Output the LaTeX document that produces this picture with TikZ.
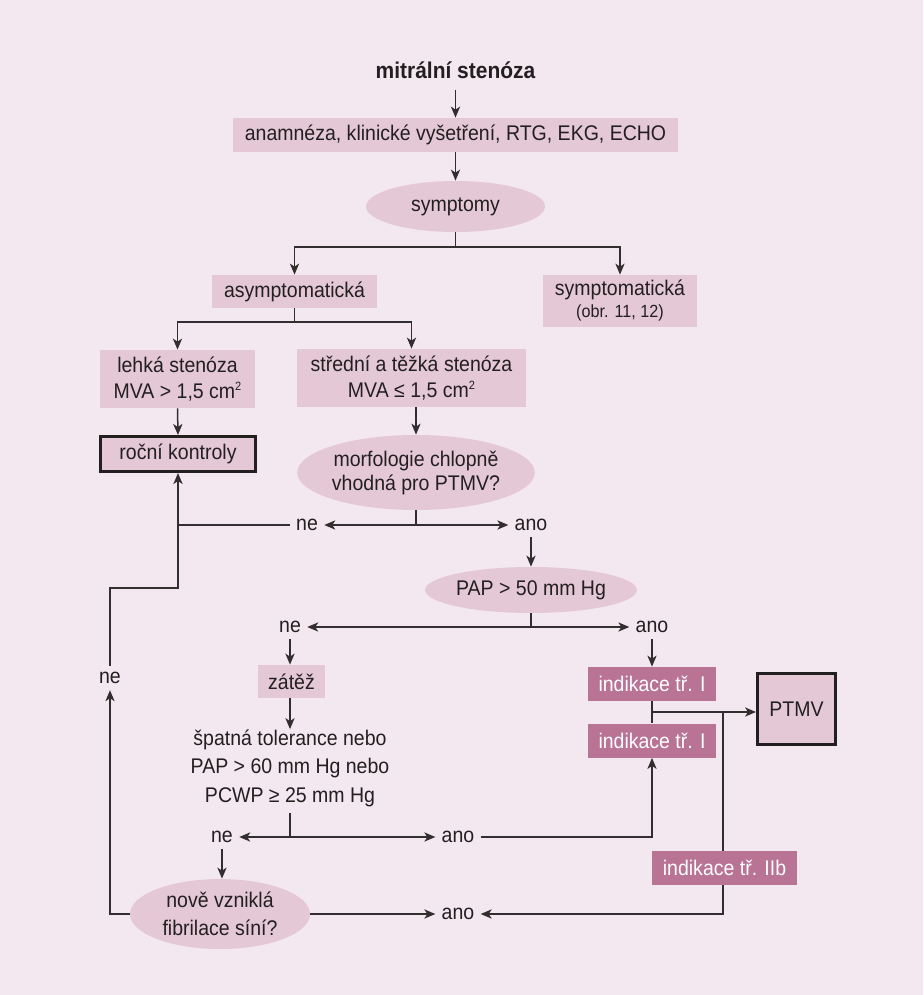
\documentclass[tikz,border=0pt]{standalone}
\usepackage{fontspec}
\setmainfont{Liberation Sans}[FakeStretch=0.92]
\usetikzlibrary{shapes.geometric,arrows.meta,calc}
\definecolor{bgc}{RGB}{243,232,239}
\definecolor{lboxc}{RGB}{228,200,214}
\definecolor{dboxc}{RGB}{185,115,149}
\definecolor{inkc}{RGB}{35,31,32}
\definecolor{linec}{RGB}{50,45,47}
\newcommand{\sqsup}{\raisebox{0.75ex}{\fontsize{6}{6}\selectfont 2}}
\begin{document}
\begin{tikzpicture}[x=0.5pt,y=-0.5pt,
  font=\fontsize{10.6}{13}\selectfont, text=inkc,
  lbox/.style={rectangle, fill=lboxc, inner sep=0pt, align=center},
  dbox/.style={rectangle, fill=dboxc, inner sep=0pt, align=center, text=white},
  lell/.style={ellipse, fill=lboxc, inner sep=0pt, align=center},
  frame/.style={rectangle, fill=lboxc, draw=inkc, line width=1.5pt, inner sep=0pt, align=center},
  lbl/.style={inner sep=3pt},
  conn/.style={draw=linec, line width=0.75pt},
  arr/.style={conn, -{Stealth[length=5.5pt,width=4.6pt,inset=1.5pt]}},
]
\fill[bgc] (0,0) rectangle (923,995);
\useasboundingbox (0,0) rectangle (923,995);

% nodes
\node[font=\bfseries\fontsize{11.4}{13}\selectfont] (title) at (455.5,70) {mitrální stenóza};
\node[lbox, minimum width=222.5pt, minimum height=17pt] (anam) at (455.5,135) {anamnéza, klinické vyšetření, RTG, EKG, ECHO};
\node[lell, minimum width=89.5pt, minimum height=25.5pt] (sym) at (455.5,206.5) {symptomy};
\node[lbox, minimum width=82.5pt, minimum height=16.5pt] (asym) at (294.5,291.5) {asymptomatická};
\node[lbox, minimum width=77pt, minimum height=26pt] (symc) at (620,301) {symptomatická\\[-2pt]{\fontsize{8.8}{10}\selectfont (obr. 11, 12)}};
\node[lbox, minimum width=77.5pt, minimum height=29pt] (lehka) at (177.5,379) {lehká stenóza\\MVA > 1,5 cm\sqsup};
\node[lbox, minimum width=114.5pt, minimum height=29pt] (stred) at (411.5,378) {střední a těžká stenóza\\MVA ≤ 1,5 cm\sqsup};
\node[frame, minimum width=77.5pt, minimum height=17.5pt] (rocni) at (178,454) {roční kontroly};
\node[lell, minimum width=113pt, minimum height=37.5pt, font=\fontsize{10.6}{12}\selectfont] (morf) at (416,472.5) {morfologie chlopně\\vhodná pro PTMV?};
\node[lell, minimum width=89.5pt, minimum height=23pt] (pap) at (531,590) {PAP > 50 mm Hg};
\node[lbox, minimum width=33.5pt, minimum height=16.5pt] (zatez) at (291.5,681.5) {zátěž};
\node[align=center, font=\fontsize{10.6}{14.25}\selectfont, inner sep=0pt] (spat) at (290,768) {špatná tolerance nebo\\PAP > 60 mm Hg nebo\\PCWP ≥ 25 mm Hg};
\node[lell, minimum width=90pt, minimum height=35pt, font=\fontsize{10.6}{14}\selectfont] (nove) at (220,914) {nově vzniklá\\fibrilace síní?};
\node[dbox, minimum width=64pt, minimum height=17pt] (ind1) at (652,684) {indikace tř. I};
\node[dbox, minimum width=64pt, minimum height=17pt] (ind2) at (652,740.5) {indikace tř. I};
\node[frame, minimum width=39pt, minimum height=35.5pt] (ptmv) at (796.5,709) {PTMV};

% labels
\node[lbl] (ne1) at (307,525) {ne};
\node[lbl] (ano1) at (531,525) {ano};
\node[lbl] (ne2) at (290,627) {ne};
\node[lbl] (ano2) at (652,627) {ano};
\node[lbl] (ne3) at (222,837) {ne};
\node[lbl] (ano3) at (458,837) {ano};
\node[lbl] (ano4) at (458,914) {ano};
\node[lbl] (ne4) at (110,678) {ne};

% junctions
\coordinate (j1) at (455.5,247);
\coordinate (j2) at (294.5,322);
\coordinate (j3) at (416,525);
\coordinate (k2) at (178,588);
\coordinate (j4) at (531,627);
\coordinate (j5) at (290,837);
\coordinate (j6) at (652,712);
\coordinate (j7) at (723,712);

% connectors
\draw[arr, shorten <=2pt] (title.south) -- (anam.north);
\draw[arr] (anam.south) -- (sym.north);
\draw[conn] (sym.south) -- (j1);
\draw[arr] (j1) -| (asym.north);
\draw[arr] (j1) -| (symc.north);
\draw[conn] (asym.south) -- (j2);
\draw[arr] (j2) -| (lehka.north);
\draw[arr] (j2) -| (stred.north);
\draw[arr] (lehka.south) -- (rocni.north);
\draw[arr] (stred.south -| morf.north) -- (morf.north);
\draw[conn] (morf.south) -- (j3);
\draw[arr] (j3) -- (ne1.east);
\draw[arr] (j3) -- (ano1.west);
\draw[conn] (ne1.west) -- (ne1.west -| rocni.south);
\draw[arr] (ne4.north) |- (k2) -- (rocni.south);
\draw[arr] (ano1.south) -- (pap.north);
\draw[conn] (pap.south) -- (j4);
\draw[arr] (j4) -- (ne2.east);
\draw[arr] (j4) -- (ano2.west);
\draw[arr] (ne2.south) -- (ne2.south |- zatez.north);
\draw[arr] (zatez.south -| spat.north) -- (spat.north);
\draw[conn, shorten <=3pt] (spat.south) -- (j5);
\draw[arr] (j5) -- (ne3.east);
\draw[arr] (j5) -- (ano3.west);
\draw[arr] (ne3.south) -- (ne3.south |- nove.north);
\draw[arr] (nove.west) -| (ne4.south);
\draw[arr] (nove.east) -- (ano4.west);
\draw[arr] (ano3.east) -| (ind2.south);
\draw[arr] (ano2.south) -- (ind1.north);
\draw[conn] (ind1.south) -- (ind2.north);
\draw[arr] (j6) -- (j6 -| ptmv.west);
\draw[arr] (j7) |- (ano4.east);

\node[dbox, minimum width=72.5pt, minimum height=17pt] (iib) at (724.5,868) {indikace tř. IIb};
\end{tikzpicture}
\end{document}
